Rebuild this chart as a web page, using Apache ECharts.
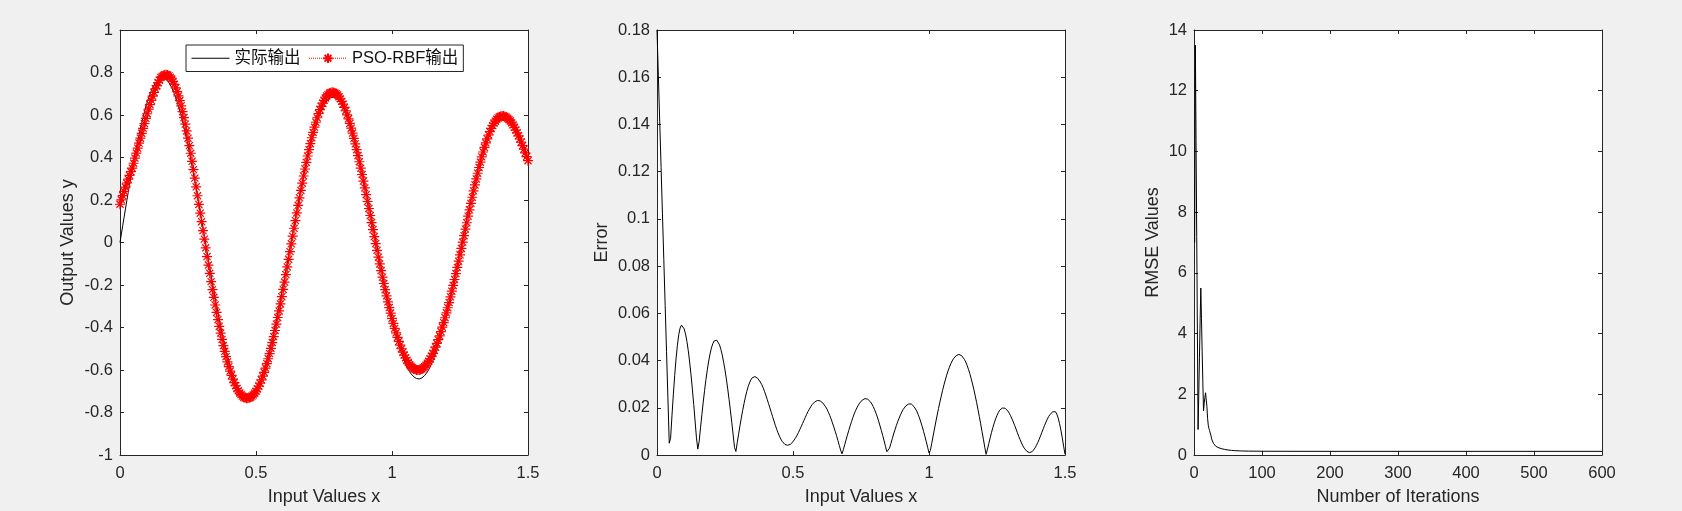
<!DOCTYPE html>
<html>
<head>
<meta charset="utf-8">
<script src="https://cdn.jsdelivr.net/npm/echarts@6/dist/echarts.min.js"></script>
<style>
html,body{margin:0;padding:0;background:#f0f0f0;}
#chart{width:1682px;height:511px;}
</style>
</head>
<body>
<div id="chart"></div>
<script>
// ---------- data ----------
const xStep = 0.005;               // sampling step of the input x (0 … 1.5)
const nPoints = 301;

const actualY = [
0.000,0.040,0.080,0.119,0.158,0.197,0.235,0.272,0.309,0.345,
0.380,0.414,0.446,0.478,0.508,0.537,0.565,0.591,0.615,0.638,
0.660,0.680,0.697,0.714,0.728,0.740,0.751,0.760,0.767,0.771,
0.774,0.775,0.774,0.772,0.767,0.760,0.752,0.741,0.729,0.715,
0.699,0.681,0.662,0.641,0.619,0.595,0.570,0.543,0.515,0.486,
0.455,0.424,0.392,0.358,0.324,0.289,0.253,0.217,0.181,0.144,
0.106,0.069,0.031,-0.006,-0.044,-0.081,-0.118,-0.155,-0.191,-0.227,
-0.262,-0.296,-0.329,-0.362,-0.394,-0.424,-0.454,-0.482,-0.509,-0.535,
-0.559,-0.582,-0.603,-0.623,-0.641,-0.658,-0.673,-0.686,-0.697,-0.707,
-0.715,-0.721,-0.725,-0.728,-0.728,-0.727,-0.724,-0.719,-0.713,-0.704,
-0.694,-0.682,-0.669,-0.654,-0.637,-0.619,-0.599,-0.578,-0.555,-0.531,
-0.506,-0.479,-0.452,-0.423,-0.393,-0.362,-0.331,-0.299,-0.266,-0.232,
-0.198,-0.164,-0.129,-0.094,-0.059,-0.023,0.012,0.047,0.082,0.117,
0.151,0.185,0.218,0.251,0.283,0.315,0.345,0.375,0.403,0.431,
0.457,0.482,0.506,0.529,0.550,0.570,0.588,0.605,0.620,0.634,
0.646,0.656,0.665,0.672,0.678,0.682,0.684,0.684,0.682,0.679,
0.674,0.668,0.660,0.650,0.639,0.626,0.611,0.595,0.578,0.559,
0.539,0.517,0.495,0.471,0.446,0.420,0.392,0.364,0.335,0.306,
0.275,0.244,0.213,0.181,0.148,0.116,0.083,0.050,0.016,-0.017,
-0.050,-0.083,-0.115,-0.147,-0.179,-0.210,-0.241,-0.271,-0.300,-0.329,
-0.356,-0.383,-0.409,-0.433,-0.457,-0.479,-0.500,-0.520,-0.538,-0.555,
-0.570,-0.585,-0.597,-0.608,-0.618,-0.626,-0.632,-0.637,-0.640,-0.642,
-0.642,-0.640,-0.637,-0.632,-0.626,-0.618,-0.609,-0.598,-0.586,-0.572,
-0.556,-0.540,-0.522,-0.503,-0.482,-0.461,-0.438,-0.414,-0.390,-0.364,
-0.338,-0.310,-0.282,-0.254,-0.225,-0.195,-0.165,-0.134,-0.103,-0.072,
-0.041,-0.010,0.021,0.052,0.083,0.113,0.143,0.173,0.202,0.231,
0.259,0.287,0.313,0.339,0.364,0.388,0.411,0.432,0.453,0.473,
0.491,0.508,0.524,0.538,0.551,0.563,0.573,0.582,0.589,0.595,
0.599,0.602,0.603,0.603,0.601,0.598,0.593,0.587,0.579,0.570,
0.560,0.548,0.535,0.520,0.504,0.487,0.469,0.450,0.429,0.408,
0.385];

const predictedY = [
0.180,0.201,0.221,0.241,0.261,0.280,0.298,0.316,0.334,0.350,
0.373,0.397,0.421,0.444,0.468,0.491,0.514,0.537,0.560,0.584,
0.606,0.628,0.649,0.669,0.689,0.706,0.723,0.738,0.752,0.764,
0.777,0.781,0.786,0.789,0.789,0.788,0.784,0.777,0.769,0.758,
0.744,0.728,0.710,0.690,0.668,0.643,0.616,0.588,0.557,0.525,
0.491,0.456,0.420,0.382,0.343,0.303,0.262,0.220,0.179,0.138,
0.098,0.056,0.016,-0.025,-0.066,-0.106,-0.145,-0.184,-0.222,-0.258,
-0.294,-0.329,-0.363,-0.395,-0.426,-0.456,-0.485,-0.512,-0.537,-0.562,
-0.584,-0.605,-0.625,-0.643,-0.659,-0.674,-0.687,-0.698,-0.708,-0.716,
-0.723,-0.728,-0.731,-0.733,-0.733,-0.731,-0.728,-0.723,-0.717,-0.709,
-0.700,-0.689,-0.676,-0.662,-0.646,-0.629,-0.611,-0.591,-0.570,-0.547,
-0.523,-0.498,-0.471,-0.443,-0.414,-0.384,-0.353,-0.322,-0.289,-0.255,
-0.221,-0.186,-0.151,-0.115,-0.079,-0.043,-0.006,0.030,0.067,0.103,
0.139,0.175,0.210,0.245,0.279,0.313,0.346,0.377,0.407,0.437,
0.465,0.493,0.518,0.543,0.566,0.587,0.607,0.625,0.641,0.656,
0.669,0.680,0.689,0.696,0.702,0.705,0.707,0.706,0.704,0.700,
0.694,0.686,0.676,0.664,0.651,0.636,0.620,0.601,0.582,0.561,
0.538,0.515,0.490,0.464,0.437,0.409,0.380,0.350,0.320,0.289,
0.257,0.225,0.193,0.160,0.127,0.094,0.061,0.028,-0.005,-0.037,
-0.069,-0.101,-0.132,-0.163,-0.193,-0.222,-0.251,-0.279,-0.306,-0.332,
-0.357,-0.381,-0.404,-0.425,-0.446,-0.465,-0.483,-0.500,-0.516,-0.530,
-0.543,-0.555,-0.565,-0.575,-0.582,-0.589,-0.594,-0.597,-0.600,-0.600,
-0.600,-0.598,-0.595,-0.590,-0.584,-0.577,-0.568,-0.559,-0.548,-0.535,
-0.522,-0.507,-0.492,-0.475,-0.457,-0.439,-0.419,-0.398,-0.377,-0.354,
-0.331,-0.307,-0.283,-0.256,-0.229,-0.202,-0.174,-0.146,-0.117,-0.088,
-0.058,-0.028,0.002,0.032,0.063,0.093,0.124,0.154,0.184,0.213,
0.243,0.271,0.299,0.326,0.353,0.378,0.403,0.426,0.448,0.469,
0.488,0.506,0.522,0.537,0.550,0.562,0.571,0.580,0.586,0.591,
0.594,0.595,0.595,0.593,0.590,0.585,0.579,0.572,0.563,0.553,
0.542,0.529,0.516,0.502,0.487,0.472,0.456,0.439,0.422,0.404,
0.385];

const errorY = [
0.1800,0.1606,0.1411,0.1217,0.1022,0.0828,0.0633,0.0439,0.0245,0.0050,
0.0071,0.0166,0.0255,0.0336,0.0407,0.0465,0.0510,0.0538,0.0550,0.0547,
0.0534,0.0512,0.0481,0.0442,0.0394,0.0340,0.0279,0.0214,0.0144,0.0073,
0.0025,0.0058,0.0115,0.0171,0.0224,0.0274,0.0320,0.0361,0.0398,0.0428,
0.0453,0.0471,0.0483,0.0488,0.0486,0.0479,0.0466,0.0447,0.0423,0.0393,
0.0360,0.0322,0.0280,0.0235,0.0187,0.0137,0.0085,0.0032,0.0015,0.0052,
0.0088,0.0124,0.0157,0.0189,0.0218,0.0245,0.0269,0.0289,0.0305,0.0318,
0.0327,0.0331,0.0332,0.0330,0.0325,0.0318,0.0309,0.0298,0.0285,0.0270,
0.0254,0.0236,0.0218,0.0200,0.0181,0.0162,0.0144,0.0126,0.0109,0.0094,
0.0080,0.0068,0.0058,0.0051,0.0045,0.0042,0.0041,0.0042,0.0045,0.0050,
0.0056,0.0064,0.0074,0.0084,0.0095,0.0108,0.0120,0.0133,0.0146,0.0159,
0.0172,0.0184,0.0194,0.0204,0.0213,0.0220,0.0225,0.0229,0.0231,0.0231,
0.0229,0.0226,0.0220,0.0213,0.0204,0.0194,0.0181,0.0168,0.0153,0.0136,
0.0119,0.0101,0.0082,0.0062,0.0041,0.0021,0.0005,0.0022,0.0043,0.0064,
0.0084,0.0104,0.0123,0.0141,0.0158,0.0174,0.0188,0.0200,0.0211,0.0220,
0.0228,0.0233,0.0237,0.0239,0.0239,0.0236,0.0231,0.0225,0.0216,0.0205,
0.0192,0.0177,0.0161,0.0143,0.0123,0.0103,0.0082,0.0060,0.0037,0.0014,
0.0008,0.0029,0.0049,0.0069,0.0089,0.0107,0.0125,0.0141,0.0156,0.0170,
0.0182,0.0193,0.0201,0.0208,0.0213,0.0216,0.0217,0.0216,0.0212,0.0205,
0.0197,0.0186,0.0172,0.0157,0.0139,0.0121,0.0100,0.0079,0.0056,0.0033,
0.0009,0.0019,0.0049,0.0080,0.0110,0.0140,0.0169,0.0197,0.0224,0.0249,
0.0274,0.0297,0.0318,0.0338,0.0356,0.0372,0.0386,0.0398,0.0408,0.0416,
0.0421,0.0425,0.0426,0.0425,0.0421,0.0414,0.0405,0.0394,0.0380,0.0363,
0.0345,0.0324,0.0301,0.0277,0.0250,0.0223,0.0193,0.0163,0.0132,0.0099,
0.0067,0.0033,0.0003,0.0025,0.0049,0.0073,0.0096,0.0117,0.0136,0.0153,
0.0168,0.0180,0.0190,0.0196,0.0199,0.0200,0.0198,0.0193,0.0186,0.0177,
0.0166,0.0153,0.0140,0.0125,0.0110,0.0094,0.0079,0.0065,0.0051,0.0039,
0.0029,0.0021,0.0015,0.0011,0.0010,0.0011,0.0015,0.0021,0.0030,0.0041,
0.0053,0.0066,0.0081,0.0096,0.0111,0.0126,0.0139,0.0152,0.0163,0.0172,
0.0179,0.0183,0.0185,0.0183,0.0173,0.0156,0.0133,0.0105,0.0073,0.0037,
0.0003];

const iterations = [1,2,3,4,5,6,7,8,9,10,11,12,13,14,15,16,17,18,19,20,
  21,22,23,24,25,26,27,28,29,30,32,35,40,45,50,55,60,70,80,100,150,200,300,400,500,600];
const rmseValues = [7.0,13.5,10.4,7.2,4.0,0.84,2.0,3.2,4.4,5.5,4.5,3.4,2.4,1.45,1.7,1.9,2.05,2.0,1.6,1.2,
  0.98,0.87,0.8,0.74,0.63,0.53,0.46,0.41,0.37,0.34,0.29,0.25,0.21,0.185,0.165,0.152,0.143,0.133,0.128,0.124,0.121,0.12,0.12,0.12,0.12,0.12];

const legendNames = ['实际输出', 'PSO-RBF输出'];
const xTitles = ['Input Values x', 'Input Values x', 'Number of Iterations'];
const yTitles = ['Output Values y', 'Error', 'RMSE Values'];

// ---------- chart ----------
const FONT = "'Liberation Sans', Arial, 'Noto Sans CJK SC', sans-serif";
const AX = '#262626';
const xs = Array.from({length: nPoints}, (_, i) => +(i * xStep).toFixed(3));

const gridLefts = [120, 657, 1194];
const grids = gridLefts.map(l => ({left: l, top: 30, width: 408, height: 426,
  show: true, backgroundColor: '#ffffff', borderWidth: 0, containLabel: false}));

const scales = [
  {x: [0, 1.5, 0.5], y: [-1, 1, 0.2], yGap: 43},
  {x: [0, 1.5, 0.5], y: [0, 0.18, 0.02], yGap: 46},
  {x: [0, 600, 100], y: [0, 14, 2], yGap: 32}
];

const xAxes = [], yAxes = [];
scales.forEach((s, g) => {
  const common = {
    axisLine: {show: true, onZero: false, lineStyle: {color: AX, width: 1}},
    axisTick: {show: true, inside: true, length: 4, lineStyle: {color: AX, width: 1}},
    splitLine: {show: false}
  };
  xAxes.push(Object.assign({}, common, {
    type: 'value', gridIndex: g, position: 'bottom', min: s.x[0], max: s.x[1], interval: s.x[2],
    name: xTitles[g], nameLocation: 'middle', nameGap: 33,
    nameTextStyle: {color: AX, fontSize: 18, fontFamily: FONT},
    axisLabel: {show: true, color: AX, fontSize: 16.5, fontFamily: FONT, margin: 10, showMinLabel: true, showMaxLabel: true}
  }));
  xAxes.push(Object.assign({}, common, {
    type: 'value', gridIndex: g, position: 'top', min: s.x[0], max: s.x[1], interval: s.x[2],
    axisLabel: {show: false}
  }));
  yAxes.push(Object.assign({}, common, {
    type: 'value', gridIndex: g, position: 'left', min: s.y[0], max: s.y[1], interval: s.y[2],
    name: yTitles[g], nameLocation: 'middle', nameGap: s.yGap,
    nameTextStyle: {color: AX, fontSize: 18, fontFamily: FONT},
    axisLabel: {show: true, color: AX, fontSize: 16.5, fontFamily: FONT, margin: 7, showMinLabel: true, showMaxLabel: true}
  }));
  yAxes.push(Object.assign({}, common, {
    type: 'value', gridIndex: g, position: 'right', min: s.y[0], max: s.y[1], interval: s.y[2],
    axisLabel: {show: false}
  }));
});

const asterisk = 'path://M0,5L10,5M5,0L5,10M1.46,1.46L8.54,8.54M8.54,1.46L1.46,8.54';

const option = {
  animation: false,
  backgroundColor: '#f0f0f0',
  grid: grids,
  xAxis: xAxes,
  yAxis: yAxes,
  legend: {
    left: 186, top: 45, orient: 'horizontal',
    itemWidth: 38, itemHeight: 12, itemGap: 8,
    padding: [5, 5, 5, 5],
    borderColor: AX, borderWidth: 1, backgroundColor: '#ffffff',
    textStyle: {fontSize: 16.5, color: '#111', fontFamily: FONT},
    data: [
      {name: legendNames[0], itemStyle: {opacity: 0}, lineStyle: {width: 1}},
      {name: legendNames[1], lineStyle: {width: 1}}
    ]
  },
  series: [
    {
      name: legendNames[0], type: 'line', xAxisIndex: 0, yAxisIndex: 0,
      data: xs.map((x, i) => [x, actualY[i]]),
      symbol: 'none', showSymbol: false, clip: false,
      lineStyle: {color: '#000000', width: 1}, itemStyle: {color: '#000000'}, z: 2
    },
    {
      name: legendNames[1], type: 'line', xAxisIndex: 0, yAxisIndex: 0,
      data: xs.map((x, i) => [x, predictedY[i]]),
      symbol: asterisk, symbolSize: 10, showSymbol: true, clip: false,
      lineStyle: {color: '#ff0000', width: 0.8, type: 'dotted'},
      itemStyle: {color: '#ff0000', borderColor: '#ff0000', borderWidth: 1.2}, z: 3
    },
    {
      name: 'error', type: 'line', xAxisIndex: 2, yAxisIndex: 2,
      data: xs.map((x, i) => [x, errorY[i]]),
      symbol: 'none', showSymbol: false,
      lineStyle: {color: '#000000', width: 1}, itemStyle: {color: '#000000'}
    },
    {
      name: 'rmse', type: 'line', xAxisIndex: 4, yAxisIndex: 4,
      data: iterations.map((it, i) => [it, rmseValues[i]]),
      symbol: 'none', showSymbol: false,
      lineStyle: {color: '#000000', width: 1}, itemStyle: {color: '#000000'}
    }
  ]
};

const chart = echarts.init(document.getElementById('chart'), null, {renderer: 'canvas', width: 1682, height: 511});
chart.setOption(option);
</script>
</body>
</html>
